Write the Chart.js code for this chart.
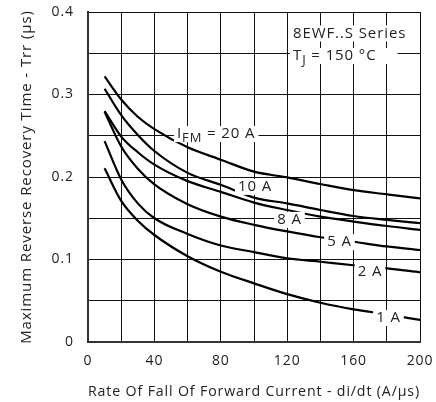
<!DOCTYPE html>
<html>
<head>
<meta charset="utf-8">
<script src="https://cdn.jsdelivr.net/npm/chart.js@4/dist/chart.umd.min.js"></script>
<style>
  html, body { margin: 0; padding: 0; background: #fff; }
  canvas { display: block; }
</style>
</head>
<body>
<canvas id="trrChart" width="436" height="402"></canvas>
<script>
// di/dt values (A/us) where the curves were read
const didt = [10, 20, 30, 40, 60, 80, 100, 120, 140, 160, 180, 200];

// Trr (us) per forward current
const trr20A = [0.322, 0.294, 0.273, 0.258, 0.236, 0.221, 0.2065, 0.1995, 0.1915, 0.184, 0.179, 0.174];
const trr10A = [0.307, 0.275, 0.251, 0.2315, 0.205, 0.1905, 0.175, 0.168, 0.160, 0.1527, 0.148, 0.144];
const trr8A  = [0.280, 0.249, 0.230, 0.215, 0.195, 0.182, 0.169, 0.160, 0.152, 0.146, 0.1406, 0.136];
const trr5A  = [0.279, 0.237, 0.210, 0.191, 0.167, 0.152, 0.142, 0.134, 0.127, 0.1215, 0.1158, 0.1115];
const trr2A  = [0.2435, 0.197, 0.168, 0.150, 0.131, 0.117, 0.109, 0.1015, 0.0973, 0.093, 0.0893, 0.0845];
const trr1A  = [0.2105, 0.171, 0.147, 0.1297, 0.104, 0.0852, 0.0711, 0.058, 0.0476, 0.0396, 0.0335, 0.0267];

// tick labels
const xTickLabels = ['0', '40', '80', '120', '160', '200'];
const yTickLabels = ['0', '0.1', '0.2', '0.3', '0.4'];

const FONT = "'Open Sans', sans-serif";
const TEXT = '#222';

function toPoints(ys) {
  return didt.map((x, i) => ({ x, y: ys[i] }));
}

function curve(label, ys) {
  return {
    label,
    data: toPoints(ys),
    borderColor: '#000',
    borderWidth: 2.2,
    pointRadius: 0,
    fill: false,
    cubicInterpolationMode: 'monotone'
  };
}

// --- text labels on the plot (white boxes hide the grid behind) ---
const notes = [
  { parts: [{ t: '8EWF..S Series' }], x: 123.5, y: 0.374, align: 'left' },
  { parts: [{ t: 'T' }, { t: 'J', sub: true }, { t: ' = 150 °C' }], x: 123.5, y: 0.3467, align: 'left', extra: 18 },
  { parts: [{ t: 'I' }, { t: 'FM', sub: true }, { t: ' = 20 A' }], x: 53.6, y: 0.252, align: 'left' },
  { parts: [{ t: '10 A' }], x: 100.6, y: 0.188, align: 'center' },
  { parts: [{ t: '8 A' }], x: 121.4, y: 0.148, align: 'center' },
  { parts: [{ t: '5 A' }], x: 151.5, y: 0.121, align: 'center' },
  { parts: [{ t: '2 A' }], x: 169.9, y: 0.0848, align: 'center' },
  { parts: [{ t: '1 A' }], x: 181, y: 0.029, align: 'center' }
];

// wider letter spacing, closer to the original typeface
const spacingPlugin = {
  id: 'spacing',
  beforeDraw(chart) {
    chart.ctx.letterSpacing = '0.9px';
  }
};

const notesPlugin = {
  id: 'notes',
  afterDatasetsDraw(chart) {
    const { ctx, scales } = chart;
    ctx.save();
    ctx.letterSpacing = '0.9px';
    ctx.textBaseline = 'middle';
    ctx.textAlign = 'left';
    notes.forEach(n => {
      const px = scales.x.getPixelForValue(n.x);
      const py = scales.y.getPixelForValue(n.y);
      let w = 0;
      n.parts.forEach(p => {
        ctx.font = (p.sub ? '13px ' : '15px ') + FONT;
        p.w = ctx.measureText(p.t).width;
        w += p.w;
      });
      let sx = n.align === 'center' ? px - w / 2 : px;
      ctx.fillStyle = '#fff';
      ctx.fillRect(sx - 3, py - 8, w + 6 + (n.extra || 0), 16);
      ctx.fillStyle = TEXT;
      n.parts.forEach(p => {
        ctx.font = (p.sub ? '13px ' : '15px ') + FONT;
        ctx.fillText(p.t, sx, p.sub ? py + 4 : py);
        sx += p.w;
      });
    });
    ctx.restore();
  }
};

const ctx = document.getElementById('trrChart').getContext('2d');
new Chart(ctx, {
  type: 'line',
  data: {
    datasets: [
      curve('20 A', trr20A),
      curve('10 A', trr10A),
      curve('8 A', trr8A),
      curve('5 A', trr5A),
      curve('2 A', trr2A),
      curve('1 A', trr1A)
    ]
  },
  options: {
    responsive: false,
    animation: false,
    layout: { padding: { left: 0, top: 12, right: 16, bottom: 0 } },
    plugins: { legend: { display: false }, tooltip: { enabled: false } },
    scales: {
      x: {
        type: 'linear',
        min: 0,
        max: 200,
        afterFit: s => { s.height = 60; s.paddingLeft = 0; s.paddingRight = 0; },
        border: { display: true, color: '#333', width: 2 },
        grid: { color: '#111', lineWidth: 1, drawTicks: false },
        ticks: {
          stepSize: 20,
          autoSkip: false,
          maxRotation: 0,
          padding: 11,
          color: TEXT,
          font: { family: FONT, size: 14 },
          callback: v => xTickLabels.includes(String(v)) ? String(v) : ''
        },
        title: {
          display: true,
          text: 'Rate Of Fall Of Forward Current - di/dt (A/µs)',
          color: TEXT,
          font: { family: FONT, size: 15 },
          padding: { top: 0, bottom: 1 }
        }
      },
      y: {
        min: 0,
        max: 0.4,
        afterFit: s => { s.width = 88; s.paddingTop = 0; s.paddingBottom = 0; },
        border: { display: true, color: '#333', width: 2 },
        grid: { color: '#111', lineWidth: 1, drawTicks: false },
        ticks: {
          stepSize: 0.05,
          autoSkip: false,
          padding: 14,
          color: TEXT,
          font: { family: FONT, size: 14 },
          callback: v => {
            const s = String(Math.round(v * 100) / 100);
            return yTickLabels.includes(s) ? s : '';
          }
        },
        title: {
          display: true,
          text: 'Maximum Reverse Recovery Time - Trr (µs)',
          color: TEXT,
          font: { family: FONT, size: 15 },
          padding: { top: 18, bottom: 0 }
        }
      }
    }
  },
  plugins: [spacingPlugin, notesPlugin]
});
</script>
</body>
</html>
